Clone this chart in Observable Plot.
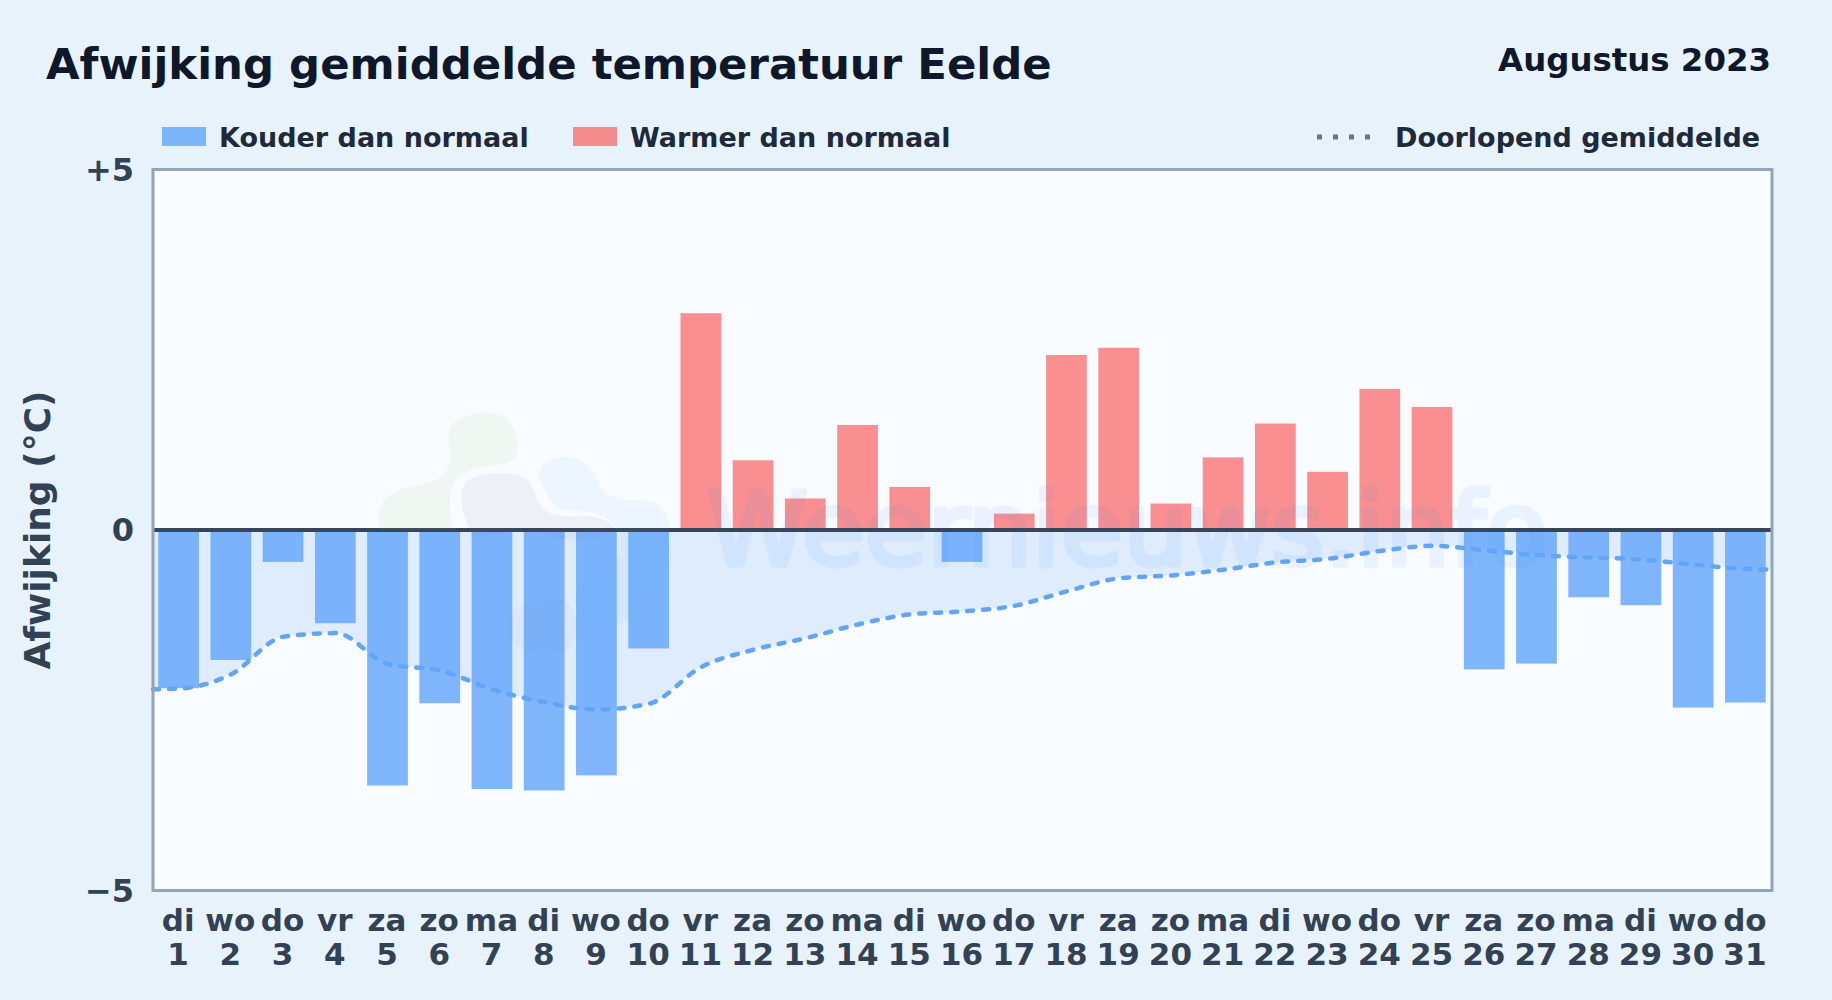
<!DOCTYPE html>
<html lang="nl">
<head>
<meta charset="utf-8">
<script src="https://cdn.jsdelivr.net/npm/d3@7"></script>
<script src="https://cdn.jsdelivr.net/npm/@observablehq/plot@0.6"></script>
<style>
html,body{margin:0;padding:0;width:1832px;height:1000px;overflow:hidden;background:#e8f2fb;font-family:"DejaVu Sans",sans-serif;font-weight:700}
#page{position:relative;width:1832px;height:1000px}
#page>*{position:absolute}
.t{white-space:nowrap;line-height:1}
#title{left:46px;top:43px;font-size:43.4px;color:#0f172a}
#sub{right:61px;top:44px;font-size:32.4px;color:#0f172a}
.leg{top:124px;font-size:27px;color:#1e293b}
.sw{top:127px;width:44px;height:19px}
#chart{left:0;top:150px}
#chart svg{overflow:visible;background:transparent}
#logo{left:0;top:0;pointer-events:none}
</style>
</head>
<body>
<div id="page">
  <div id="title" class="t">Afwijking gemiddelde temperatuur Eelde</div>
  <div id="sub" class="t">Augustus 2023</div>
  <div class="sw" style="left:162px;background:#60a5fa;opacity:.8"></div>
  <div class="leg t" style="left:219px">Kouder dan normaal</div>
  <div class="sw" style="left:573px;background:#f87171;opacity:.78"></div>
  <div class="leg t" style="left:630px">Warmer dan normaal</div>
  <svg style="left:1316px;top:131px" width="60" height="12"><line x1="1" x2="59" y1="6" y2="6" stroke="#64748b" stroke-width="5" stroke-dasharray="5 11"/></svg>
  <div class="leg t" style="left:1395px">Doorlopend gemiddelde</div>
  <div id="chart"></div>
  <svg id="logo" width="1832" height="1000">
    <path fill="#9ccc65" opacity=".08" d="M380 530C376 505 385 492 410 487C432 483 445 480 450 462C452 450 446 440 449 430C455 415 480 411 497 414C515 418 520 440 516 456C513 462 505 465 490 466C470 468 455 475 452 490C448 505 450 520 455 530Z"/>
    <path fill="#64748b" opacity=".07" d="M472 535C462 515 458 495 465 483C475 472 510 470 525 478C535 485 533 495 540 505C548 517 565 517 585 516C600 516 612 522 615 530C590 545 560 540 540 532C520 526 495 540 472 535Z"/>
    <path fill="#60a5fa" opacity=".07" d="M540 470C548 454 580 453 590 468C598 480 598 490 612 497C625 503 645 497 658 505C668 513 672 525 668 540C665 560 655 590 640 610C625 630 590 630 580 615C570 600 580 585 600 575C615 565 625 555 620 535C612 515 590 510 570 510C555 510 548 500 545 490C542 482 536 478 540 470Z"/>
    <path fill="#64748b" opacity=".035" d="M508 615C525 600 555 595 570 605C580 620 580 640 565 650C545 660 515 650 508 635Z"/>
  </svg>
</div>
<script>
const days = d3.range(1, 32);
const weekdays = ["di","wo","do","vr","za","zo","ma","di","wo","do","vr","za","zo","ma","di","wo","do","vr","za","zo","ma","di","wo","do","vr","za","zo","ma","di","wo","do"];
const deviation = [-2.2,-1.81,-0.45,-1.3,-3.55,-2.41,-3.6,-3.62,-3.41,-1.65,3.0,0.96,0.43,1.45,0.59,-0.45,0.22,2.42,2.52,0.36,1.0,1.47,0.8,1.95,1.7,-1.94,-1.86,-0.94,-1.05,-2.47,-2.4];
const runningX = [0.5,1,2,3,4,5,6,7,8,9,10,11,12,13,14,15,16,17,18,19,20,21,22,23,24,25,26,27,28,29,30,31,31.5];
const runningY = [-2.21,-2.2,-2.0,-1.48,-1.43,-1.86,-1.95,-2.21,-2.39,-2.49,-2.41,-1.9,-1.66,-1.5,-1.31,-1.17,-1.13,-1.05,-0.85,-0.67,-0.63,-0.55,-0.45,-0.4,-0.29,-0.22,-0.28,-0.35,-0.38,-0.41,-0.48,-0.54,-0.55];
const yTicks = [-5, 0, 5];
const yTickLabels = ["\u22125", "0", "+5"];
const running = runningX.map((x, i) => ({x, y: runningY[i]}));
const bars = days.map((d, i) => ({d, v: deviation[i]}));
const halfBar = 0.39;

const plot = Plot.plot({
  width: 1832,
  height: 850,
  marginLeft: 152.5,
  marginRight: 60.5,
  marginTop: 19,
  marginBottom: 110,
  style: {background: "transparent", fontFamily: "'DejaVu Sans',sans-serif"},
  x: {domain: [0.5, 31.5]},
  y: {domain: [-5, 5]},
  marks: [
    Plot.frame({fill: "#f8fbff", stroke: "none"}),
    Plot.areaY(running, {x: "x", y1: 0, y2: "y", curve: "monotone-x", fill: "#60a5fa", fillOpacity: 0.17}),
    Plot.rect(bars, {
      x1: d => d.d - halfBar, x2: d => d.d + halfBar, y1: 0, y2: "v",
      fill: d => d.v < 0 ? "#60a5fa" : "#f87171",
      fillOpacity: d => d.v < 0 ? 0.8 : 0.78
    }),
    Plot.text(["Weernieuws.info"], {
      frameAnchor: "middle", dx: 165, dy: 2, fontSize: 102, fontWeight: 400,
      fill: "#3b82f6", stroke: "#3b82f6", strokeWidth: 5, opacity: 0.07
    }),
    Plot.ruleY([0], {stroke: "#374559", strokeWidth: 4}),
    Plot.line(running, {x: "x", y: "y", curve: "monotone-x", stroke: "#60a5fa", strokeWidth: 4.5, strokeDasharray: "6 10", strokeLinecap: "round"}),
    Plot.frame({stroke: "#94a3b8", strokeWidth: 3}),
    Plot.axisY({
      ticks: yTicks, tickFormat: v => yTickLabels[yTicks.indexOf(v)], tickSize: 0, tickPadding: 19, dy: 1,
      label: null, fontSize: 32, fontWeight: 700, fill: "#334155"
    }),
    Plot.axisX({
      ticks: days, tickFormat: d => weekdays[d - 1] + "\n" + d, tickSize: 0, tickPadding: 16, dx: -1,
      label: null, fontSize: 31, fontWeight: 700, fill: "#334155", lineHeight: 1.1
    }),
    Plot.text(["Afwijking (\u00B0C)"], {
      frameAnchor: "left", textAnchor: "middle", dx: -114.5, rotate: -90, fontSize: 36, fontWeight: 700, fill: "#334155"
    })
  ]
});
document.getElementById("chart").appendChild(plot);
</script>
</body>
</html>
